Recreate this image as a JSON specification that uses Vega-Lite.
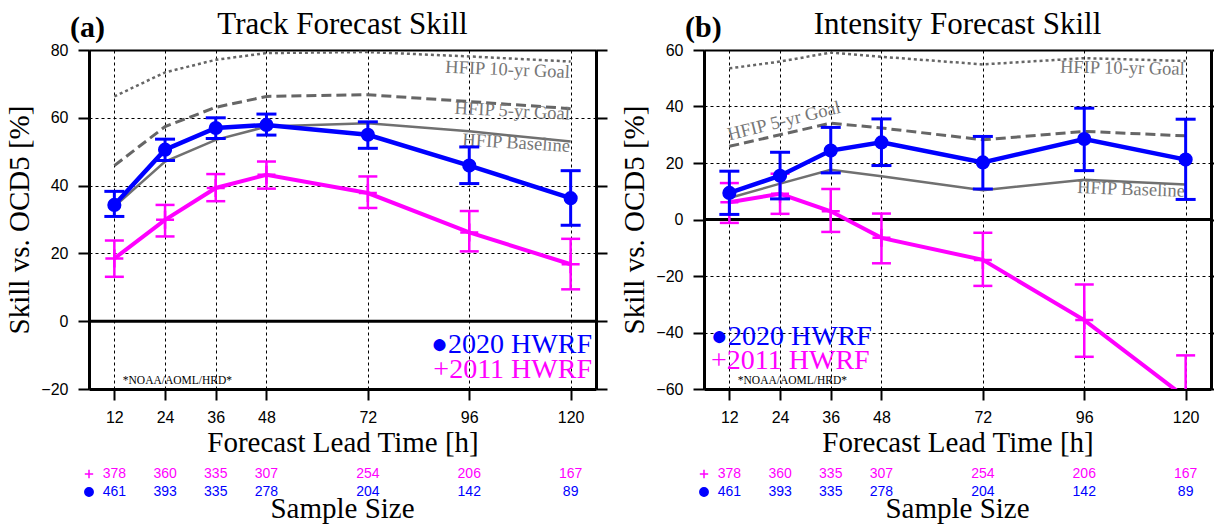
{
  "$schema": "https://vega.github.io/schema/vega-lite/v6.json",
  "autosize": {"type": "pad"},
  "padding": {"left": 5, "top": 9, "right": 0, "bottom": 0},
  "background": "white",
  "config": {
    "view": {"stroke": null},
    "axis": {
      "labelFont": "Liberation Sans", "labelFontSize": 16, "labelColor": "black",
      "titleFont": "Liberation Serif", "titleFontSize": 29, "titleFontWeight": "normal", "titleColor": "black",
      "tickColor": "black", "domainColor": "black", "tickSize": 11, "tickWidth": 2,
      "gridColor": "black", "gridDash": [3, 3], "gridWidth": 1, "gridOpacity": 1,
      "labelFlush": false, "labelOverlap": false
    },
    "title": {"font": "Liberation Serif", "fontSize": 31, "fontWeight": "normal", "color": "black", "anchor": "middle", "baseline": "alphabetic", "offset": -28},
    "text": {"font": "Liberation Serif"}
  },
  "datasets": {
    "track": [
      {"lead": 12, "series": "2020 HWRF", "skill": 34.3, "lo": 30.9, "hi": 38.3},
      {"lead": 24, "series": "2020 HWRF", "skill": 50.6, "lo": 47.4, "hi": 53.7},
      {"lead": 36, "series": "2020 HWRF", "skill": 57.0, "lo": 53.9, "hi": 60.0},
      {"lead": 48, "series": "2020 HWRF", "skill": 57.9, "lo": 54.9, "hi": 61.1},
      {"lead": 72, "series": "2020 HWRF", "skill": 55.0, "lo": 51.0, "hi": 58.8},
      {"lead": 96, "series": "2020 HWRF", "skill": 45.9, "lo": 40.6, "hi": 51.4},
      {"lead": 120, "series": "2020 HWRF", "skill": 36.3, "lo": 28.3, "hi": 44.4},
      {"lead": 12, "series": "2011 HWRF", "skill": 18.5, "lo": 13.1, "hi": 23.8},
      {"lead": 24, "series": "2011 HWRF", "skill": 29.9, "lo": 25.0, "hi": 34.3},
      {"lead": 36, "series": "2011 HWRF", "skill": 39.3, "lo": 35.4, "hi": 43.4},
      {"lead": 48, "series": "2011 HWRF", "skill": 43.2, "lo": 39.1, "hi": 47.1},
      {"lead": 72, "series": "2011 HWRF", "skill": 37.8, "lo": 33.4, "hi": 42.7},
      {"lead": 96, "series": "2011 HWRF", "skill": 26.2, "lo": 20.6, "hi": 32.5},
      {"lead": 120, "series": "2011 HWRF", "skill": 16.8, "lo": 9.4, "hi": 24.3},
      {"lead": 12, "series": "HFIP 10-yr Goal", "skill": 66.3},
      {"lead": 24, "series": "HFIP 10-yr Goal", "skill": 73.4},
      {"lead": 36, "series": "HFIP 10-yr Goal", "skill": 77.1},
      {"lead": 48, "series": "HFIP 10-yr Goal", "skill": 79.1},
      {"lead": 72, "series": "HFIP 10-yr Goal", "skill": 79.4},
      {"lead": 96, "series": "HFIP 10-yr Goal", "skill": 78.1},
      {"lead": 120, "series": "HFIP 10-yr Goal", "skill": 76.6},
      {"lead": 12, "series": "HFIP 5-yr Goal", "skill": 45.9},
      {"lead": 24, "series": "HFIP 5-yr Goal", "skill": 57.4},
      {"lead": 36, "series": "HFIP 5-yr Goal", "skill": 63.1},
      {"lead": 48, "series": "HFIP 5-yr Goal", "skill": 66.3},
      {"lead": 72, "series": "HFIP 5-yr Goal", "skill": 66.8},
      {"lead": 96, "series": "HFIP 5-yr Goal", "skill": 64.8},
      {"lead": 120, "series": "HFIP 5-yr Goal", "skill": 62.7},
      {"lead": 12, "series": "HFIP Baseline", "skill": 33.8},
      {"lead": 24, "series": "HFIP Baseline", "skill": 47.1},
      {"lead": 36, "series": "HFIP Baseline", "skill": 53.5},
      {"lead": 48, "series": "HFIP Baseline", "skill": 57.4},
      {"lead": 72, "series": "HFIP Baseline", "skill": 58.4},
      {"lead": 96, "series": "HFIP Baseline", "skill": 56.0},
      {"lead": 120, "series": "HFIP Baseline", "skill": 53.0}
    ],
    "intensity": [
      {"lead": 12, "series": "2020 HWRF", "skill": 9.4, "lo": 1.8, "hi": 17.1},
      {"lead": 24, "series": "2020 HWRF", "skill": 15.5, "lo": 7.3, "hi": 23.8},
      {"lead": 36, "series": "2020 HWRF", "skill": 24.4, "lo": 16.5, "hi": 32.6},
      {"lead": 48, "series": "2020 HWRF", "skill": 27.3, "lo": 19.1, "hi": 35.6},
      {"lead": 72, "series": "2020 HWRF", "skill": 20.2, "lo": 10.8, "hi": 29.4},
      {"lead": 96, "series": "2020 HWRF", "skill": 28.5, "lo": 17.3, "hi": 39.4},
      {"lead": 120, "series": "2020 HWRF", "skill": 21.2, "lo": 7.1, "hi": 35.5},
      {"lead": 12, "series": "2011 HWRF", "skill": 6.1, "lo": -1.2, "hi": 12.9},
      {"lead": 24, "series": "2011 HWRF", "skill": 9.1, "lo": 2.0, "hi": 16.2},
      {"lead": 36, "series": "2011 HWRF", "skill": 2.9, "lo": -4.4, "hi": 10.8},
      {"lead": 48, "series": "2011 HWRF", "skill": -6.5, "lo": -15.5, "hi": 2.1},
      {"lead": 72, "series": "2011 HWRF", "skill": -14.3, "lo": -23.5, "hi": -4.7},
      {"lead": 96, "series": "2011 HWRF", "skill": -35.6, "lo": -48.6, "hi": -23.0},
      {"lead": 120, "series": "2011 HWRF", "skill": -63.0, "lo": -78.0, "hi": -48.1},
      {"lead": 12, "series": "HFIP 10-yr Goal", "skill": 53.5},
      {"lead": 24, "series": "HFIP 10-yr Goal", "skill": 55.9},
      {"lead": 36, "series": "HFIP 10-yr Goal", "skill": 59.1},
      {"lead": 48, "series": "HFIP 10-yr Goal", "skill": 57.6},
      {"lead": 72, "series": "HFIP 10-yr Goal", "skill": 54.9},
      {"lead": 96, "series": "HFIP 10-yr Goal", "skill": 57.1},
      {"lead": 120, "series": "HFIP 10-yr Goal", "skill": 56.1},
      {"lead": 12, "series": "HFIP 5-yr Goal", "skill": 25.9},
      {"lead": 24, "series": "HFIP 5-yr Goal", "skill": 30.0},
      {"lead": 36, "series": "HFIP 5-yr Goal", "skill": 34.1},
      {"lead": 48, "series": "HFIP 5-yr Goal", "skill": 32.4},
      {"lead": 72, "series": "HFIP 5-yr Goal", "skill": 28.2},
      {"lead": 96, "series": "HFIP 5-yr Goal", "skill": 31.2},
      {"lead": 120, "series": "HFIP 5-yr Goal", "skill": 29.6},
      {"lead": 12, "series": "HFIP Baseline", "skill": 7.6},
      {"lead": 24, "series": "HFIP Baseline", "skill": 12.7},
      {"lead": 36, "series": "HFIP Baseline", "skill": 17.6},
      {"lead": 48, "series": "HFIP Baseline", "skill": 15.3},
      {"lead": 72, "series": "HFIP Baseline", "skill": 10.4},
      {"lead": 96, "series": "HFIP Baseline", "skill": 14.1},
      {"lead": 120, "series": "HFIP Baseline", "skill": 12.4}
    ],
    "samples": [
      {"lead": 12, "series": "2011 HWRF", "n": 378},
      {"lead": 24, "series": "2011 HWRF", "n": 360},
      {"lead": 36, "series": "2011 HWRF", "n": 335},
      {"lead": 48, "series": "2011 HWRF", "n": 307},
      {"lead": 72, "series": "2011 HWRF", "n": 254},
      {"lead": 96, "series": "2011 HWRF", "n": 206},
      {"lead": 120, "series": "2011 HWRF", "n": 167},
      {"lead": 12, "series": "2020 HWRF", "n": 461},
      {"lead": 24, "series": "2020 HWRF", "n": 393},
      {"lead": 36, "series": "2020 HWRF", "n": 335},
      {"lead": 48, "series": "2020 HWRF", "n": 278},
      {"lead": 72, "series": "2020 HWRF", "n": 204},
      {"lead": 96, "series": "2020 HWRF", "n": 142},
      {"lead": 120, "series": "2020 HWRF", "n": 89}
    ],
    "keys": [
      {"series": "2011 HWRF"},
      {"series": "2020 HWRF"}
    ],
    "one": [{}]
  },
  "concat": [
    {
      "width": 507,
      "height": 339,
      "title": "Track Forecast Skill",
      "data": {"name": "track"},
      "layer": [
        {
          "transform": [{"filter": "datum.series === 'HFIP 10-yr Goal'"}],
          "mark": {"type": "line", "color": "#666666", "strokeWidth": 2.5, "strokeDash": [3, 3]},
          "encoding": {
            "x": {"field": "lead", "type": "quantitative", "scale": {"domain": [6, 126], "nice": false, "zero": false},
                  "axis": {"orient": "bottom", "values": [12, 24, 36, 48, 72, 96, 120], "title": "Forecast Lead Time [h]", "grid": true, "domainWidth": 3, "labelPadding": 9, "titlePadding": 3}},
            "y": {"field": "skill", "type": "quantitative", "scale": {"domain": [-20, 80], "nice": false, "zero": false},
                  "axis": {"orient": "left", "values": [-20, 0, 20, 40, 60, 80], "title": "Skill vs. OCD5 [%]", "grid": true, "domainWidth": 3, "labelPadding": 10, "titlePadding": 6}}
          }
        },
        {
          "data": {"name": "one"},
          "mark": {"type": "rule", "color": "black", "strokeWidth": 3},
          "encoding": {
            "y": {"datum": 0, "type": "quantitative",
                  "axis": {"orient": "right", "values": [-20, 0, 20, 40, 60, 80], "labels": false, "title": null, "grid": false, "domainWidth": 3}}
          }
        },
        {
          "transform": [{"filter": "datum.series === 'HFIP 5-yr Goal'"}],
          "mark": {"type": "line", "color": "#666666", "strokeWidth": 3, "strokeDash": [10, 5]},
          "encoding": {
            "x": {"field": "lead", "type": "quantitative", "axis": null},
            "y": {"field": "skill", "type": "quantitative", "axis": null}
          }
        },
        {
          "transform": [{"filter": "datum.series === 'HFIP Baseline'"}],
          "mark": {"type": "line", "color": "#707070", "strokeWidth": 2.5},
          "encoding": {
            "x": {"field": "lead", "type": "quantitative", "axis": null},
            "y": {"field": "skill", "type": "quantitative", "axis": null}
          }
        },
        {
          "data": {"name": "one"},
          "mark": {"type": "text", "text": "HFIP 10-yr Goal", "align": "right", "baseline": "alphabetic", "angle": 2.5, "dx": -1, "fontSize": 18.5, "color": "#777777"},
          "encoding": {"x": {"datum": 120, "type": "quantitative", "axis": null}, "y": {"datum": 71.7, "type": "quantitative", "axis": null}}
        },
        {
          "data": {"name": "one"},
          "mark": {"type": "text", "text": "HFIP 5-yr Goal", "align": "right", "baseline": "alphabetic", "angle": 3, "dx": -1, "fontSize": 18.5, "color": "#777777"},
          "encoding": {"x": {"datum": 120, "type": "quantitative", "axis": null}, "y": {"datum": 59.4, "type": "quantitative", "axis": null}}
        },
        {
          "data": {"name": "one"},
          "mark": {"type": "text", "text": "HFIP Baseline", "align": "right", "baseline": "alphabetic", "angle": 3.5, "dx": -1, "fontSize": 18.5, "color": "#777777"},
          "encoding": {"x": {"datum": 120, "type": "quantitative", "axis": null}, "y": {"datum": 49.9, "type": "quantitative", "axis": null}}
        },
        {
          "transform": [{"filter": "datum.series === '2011 HWRF'"}],
          "mark": {"type": "line", "color": "#ff00ff", "strokeWidth": 4, "clip": true},
          "encoding": {
            "x": {"field": "lead", "type": "quantitative", "axis": null},
            "y": {"field": "skill", "type": "quantitative", "axis": null}
          }
        },
        {
          "transform": [{"filter": "datum.series === '2011 HWRF'"}],
          "mark": {"type": "rule", "color": "#ff00ff", "strokeWidth": 2.5, "clip": true},
          "encoding": {
            "x": {"field": "lead", "type": "quantitative", "axis": null},
            "y": {"field": "lo", "type": "quantitative", "axis": null},
            "y2": {"field": "hi"}
          }
        },
        {
          "transform": [{"filter": "datum.series === '2011 HWRF'"}],
          "mark": {"type": "tick", "orient": "horizontal", "color": "#ff00ff", "thickness": 2.5, "size": 19, "opacity": 1, "clip": true},
          "encoding": {
            "x": {"field": "lead", "type": "quantitative", "axis": null},
            "y": {"field": "lo", "type": "quantitative", "axis": null}
          }
        },
        {
          "transform": [{"filter": "datum.series === '2011 HWRF'"}],
          "mark": {"type": "tick", "orient": "horizontal", "color": "#ff00ff", "thickness": 2.5, "size": 19, "opacity": 1, "clip": true},
          "encoding": {
            "x": {"field": "lead", "type": "quantitative", "axis": null},
            "y": {"field": "hi", "type": "quantitative", "axis": null}
          }
        },
        {
          "transform": [{"filter": "datum.series === '2011 HWRF'"}],
          "mark": {"type": "point", "shape": "M-1,0H1M0,-1V1", "size": 324, "filled": false, "color": "#ff00ff", "strokeWidth": 2.5, "opacity": 1, "clip": true},
          "encoding": {
            "x": {"field": "lead", "type": "quantitative", "axis": null},
            "y": {"field": "skill", "type": "quantitative", "axis": null}
          }
        },
        {
          "transform": [{"filter": "datum.series === '2020 HWRF'"}],
          "mark": {"type": "line", "color": "#0000ff", "strokeWidth": 4.5, "clip": true},
          "encoding": {
            "x": {"field": "lead", "type": "quantitative", "axis": null},
            "y": {"field": "skill", "type": "quantitative", "axis": null}
          }
        },
        {
          "transform": [{"filter": "datum.series === '2020 HWRF'"}],
          "mark": {"type": "rule", "color": "#0000ff", "strokeWidth": 3, "clip": true},
          "encoding": {
            "x": {"field": "lead", "type": "quantitative", "axis": null},
            "y": {"field": "lo", "type": "quantitative", "axis": null},
            "y2": {"field": "hi"}
          }
        },
        {
          "transform": [{"filter": "datum.series === '2020 HWRF'"}],
          "mark": {"type": "tick", "orient": "horizontal", "color": "#0000ff", "thickness": 3, "size": 20, "opacity": 1, "clip": true},
          "encoding": {
            "x": {"field": "lead", "type": "quantitative", "axis": null},
            "y": {"field": "lo", "type": "quantitative", "axis": null}
          }
        },
        {
          "transform": [{"filter": "datum.series === '2020 HWRF'"}],
          "mark": {"type": "tick", "orient": "horizontal", "color": "#0000ff", "thickness": 3, "size": 20, "opacity": 1, "clip": true},
          "encoding": {
            "x": {"field": "lead", "type": "quantitative", "axis": null},
            "y": {"field": "hi", "type": "quantitative", "axis": null}
          }
        },
        {
          "transform": [{"filter": "datum.series === '2020 HWRF'"}],
          "mark": {"type": "point", "shape": "circle", "size": 200, "filled": true, "color": "#0000ff", "opacity": 1, "clip": true},
          "encoding": {
            "x": {"field": "lead", "type": "quantitative", "axis": null},
            "y": {"field": "skill", "type": "quantitative", "axis": null}
          }
        },
        {
          "data": {"name": "one"},
          "mark": {"type": "text", "text": "●2020 HWRF", "align": "right", "baseline": "alphabetic", "dx": -4, "fontSize": 28, "color": "#0000ff"},
          "encoding": {"x": {"datum": 126, "type": "quantitative", "axis": null}, "y": {"datum": -9.4, "type": "quantitative", "axis": null}}
        },
        {
          "data": {"name": "one"},
          "mark": {"type": "text", "text": "+2011 HWRF", "align": "right", "baseline": "alphabetic", "dx": -4, "fontSize": 28, "color": "#ff00ff"},
          "encoding": {"x": {"datum": 126, "type": "quantitative", "axis": null}, "y": {"datum": -16.8, "type": "quantitative", "axis": null}}
        },
        {
          "data": {"name": "one"},
          "mark": {"type": "text", "text": "*NOAA/AOML/HRD*", "align": "left", "baseline": "alphabetic", "fontSize": 11.5, "color": "black"},
          "encoding": {"x": {"datum": 14, "type": "quantitative", "axis": null}, "y": {"datum": -18.5, "type": "quantitative", "axis": null}}
        },
        {
          "data": {"name": "one"},
          "mark": {"type": "text", "text": "(a)", "align": "left", "baseline": "alphabetic", "dx": -19, "dy": -13, "fontSize": 30, "fontWeight": "bold", "color": "black"},
          "encoding": {
            "x": {"datum": 6, "type": "quantitative", "axis": {"orient": "top", "labels": false, "ticks": false, "title": null, "grid": false, "domainWidth": 2}},
            "y": {"datum": 80, "type": "quantitative", "axis": null}
          }
        }
      ]
    },
    {
      "width": 507,
      "height": 339,
      "title": "Intensity Forecast Skill",
      "data": {"name": "intensity"},
      "layer": [
        {
          "transform": [{"filter": "datum.series === 'HFIP 10-yr Goal'"}],
          "mark": {"type": "line", "color": "#666666", "strokeWidth": 2.5, "strokeDash": [3, 3]},
          "encoding": {
            "x": {"field": "lead", "type": "quantitative", "scale": {"domain": [6, 126], "nice": false, "zero": false},
                  "axis": {"orient": "bottom", "values": [12, 24, 36, 48, 72, 96, 120], "title": "Forecast Lead Time [h]", "grid": true, "domainWidth": 3, "labelPadding": 9, "titlePadding": 3}},
            "y": {"field": "skill", "type": "quantitative", "scale": {"domain": [-60, 60], "nice": false, "zero": false},
                  "axis": {"orient": "left", "values": [-60, -40, -20, 0, 20, 40, 60], "title": "Skill vs. OCD5 [%]", "grid": true, "domainWidth": 3, "labelPadding": 10, "titlePadding": 6}}
          }
        },
        {
          "data": {"name": "one"},
          "mark": {"type": "rule", "color": "black", "strokeWidth": 3},
          "encoding": {
            "y": {"datum": 0, "type": "quantitative",
                  "axis": {"orient": "right", "values": [-60, -40, -20, 0, 20, 40, 60], "labels": false, "title": null, "grid": false, "domainWidth": 3}}
          }
        },
        {
          "transform": [{"filter": "datum.series === 'HFIP 5-yr Goal'"}],
          "mark": {"type": "line", "color": "#666666", "strokeWidth": 3, "strokeDash": [10, 5]},
          "encoding": {
            "x": {"field": "lead", "type": "quantitative", "axis": null},
            "y": {"field": "skill", "type": "quantitative", "axis": null}
          }
        },
        {
          "transform": [{"filter": "datum.series === 'HFIP Baseline'"}],
          "mark": {"type": "line", "color": "#707070", "strokeWidth": 2.5},
          "encoding": {
            "x": {"field": "lead", "type": "quantitative", "axis": null},
            "y": {"field": "skill", "type": "quantitative", "axis": null}
          }
        },
        {
          "data": {"name": "one"},
          "mark": {"type": "text", "text": "HFIP 10-yr Goal", "align": "right", "baseline": "alphabetic", "angle": 1, "dx": -1, "fontSize": 18.5, "color": "#777777"},
          "encoding": {"x": {"datum": 120, "type": "quantitative", "axis": null}, "y": {"datum": 51.2, "type": "quantitative", "axis": null}}
        },
        {
          "data": {"name": "one"},
          "mark": {"type": "text", "text": "HFIP 5-yr Goal", "align": "left", "baseline": "alphabetic", "angle": -14, "fontSize": 18.5, "color": "#777777"},
          "encoding": {"x": {"datum": 12, "type": "quantitative", "axis": null}, "y": {"datum": 28, "type": "quantitative", "axis": null}}
        },
        {
          "data": {"name": "one"},
          "mark": {"type": "text", "text": "HFIP Baseline", "align": "right", "baseline": "alphabetic", "angle": 2, "dx": -1, "fontSize": 18.5, "color": "#777777"},
          "encoding": {"x": {"datum": 120, "type": "quantitative", "axis": null}, "y": {"datum": 8.0, "type": "quantitative", "axis": null}}
        },
        {
          "transform": [{"filter": "datum.series === '2011 HWRF'"}],
          "mark": {"type": "line", "color": "#ff00ff", "strokeWidth": 4, "clip": true},
          "encoding": {
            "x": {"field": "lead", "type": "quantitative", "axis": null},
            "y": {"field": "skill", "type": "quantitative", "axis": null}
          }
        },
        {
          "transform": [{"filter": "datum.series === '2011 HWRF'"}],
          "mark": {"type": "rule", "color": "#ff00ff", "strokeWidth": 2.5, "clip": true},
          "encoding": {
            "x": {"field": "lead", "type": "quantitative", "axis": null},
            "y": {"field": "lo", "type": "quantitative", "axis": null},
            "y2": {"field": "hi"}
          }
        },
        {
          "transform": [{"filter": "datum.series === '2011 HWRF'"}],
          "mark": {"type": "tick", "orient": "horizontal", "color": "#ff00ff", "thickness": 2.5, "size": 19, "opacity": 1, "clip": true},
          "encoding": {
            "x": {"field": "lead", "type": "quantitative", "axis": null},
            "y": {"field": "lo", "type": "quantitative", "axis": null}
          }
        },
        {
          "transform": [{"filter": "datum.series === '2011 HWRF'"}],
          "mark": {"type": "tick", "orient": "horizontal", "color": "#ff00ff", "thickness": 2.5, "size": 19, "opacity": 1, "clip": true},
          "encoding": {
            "x": {"field": "lead", "type": "quantitative", "axis": null},
            "y": {"field": "hi", "type": "quantitative", "axis": null}
          }
        },
        {
          "transform": [{"filter": "datum.series === '2011 HWRF'"}],
          "mark": {"type": "point", "shape": "M-1,0H1M0,-1V1", "size": 324, "filled": false, "color": "#ff00ff", "strokeWidth": 2.5, "opacity": 1, "clip": true},
          "encoding": {
            "x": {"field": "lead", "type": "quantitative", "axis": null},
            "y": {"field": "skill", "type": "quantitative", "axis": null}
          }
        },
        {
          "transform": [{"filter": "datum.series === '2020 HWRF'"}],
          "mark": {"type": "line", "color": "#0000ff", "strokeWidth": 4.5, "clip": true},
          "encoding": {
            "x": {"field": "lead", "type": "quantitative", "axis": null},
            "y": {"field": "skill", "type": "quantitative", "axis": null}
          }
        },
        {
          "transform": [{"filter": "datum.series === '2020 HWRF'"}],
          "mark": {"type": "rule", "color": "#0000ff", "strokeWidth": 3, "clip": true},
          "encoding": {
            "x": {"field": "lead", "type": "quantitative", "axis": null},
            "y": {"field": "lo", "type": "quantitative", "axis": null},
            "y2": {"field": "hi"}
          }
        },
        {
          "transform": [{"filter": "datum.series === '2020 HWRF'"}],
          "mark": {"type": "tick", "orient": "horizontal", "color": "#0000ff", "thickness": 3, "size": 20, "opacity": 1, "clip": true},
          "encoding": {
            "x": {"field": "lead", "type": "quantitative", "axis": null},
            "y": {"field": "lo", "type": "quantitative", "axis": null}
          }
        },
        {
          "transform": [{"filter": "datum.series === '2020 HWRF'"}],
          "mark": {"type": "tick", "orient": "horizontal", "color": "#0000ff", "thickness": 3, "size": 20, "opacity": 1, "clip": true},
          "encoding": {
            "x": {"field": "lead", "type": "quantitative", "axis": null},
            "y": {"field": "hi", "type": "quantitative", "axis": null}
          }
        },
        {
          "transform": [{"filter": "datum.series === '2020 HWRF'"}],
          "mark": {"type": "point", "shape": "circle", "size": 200, "filled": true, "color": "#0000ff", "opacity": 1, "clip": true},
          "encoding": {
            "x": {"field": "lead", "type": "quantitative", "axis": null},
            "y": {"field": "skill", "type": "quantitative", "axis": null}
          }
        },
        {
          "data": {"name": "one"},
          "mark": {"type": "text", "text": "●2020 HWRF", "align": "left", "baseline": "alphabetic", "dx": 7, "fontSize": 28, "color": "#0000ff"},
          "encoding": {"x": {"datum": 6, "type": "quantitative", "axis": null}, "y": {"datum": -44.4, "type": "quantitative", "axis": null}}
        },
        {
          "data": {"name": "one"},
          "mark": {"type": "text", "text": "+2011 HWRF", "align": "left", "baseline": "alphabetic", "dx": 7, "fontSize": 28, "color": "#ff00ff"},
          "encoding": {"x": {"datum": 6, "type": "quantitative", "axis": null}, "y": {"datum": -52.9, "type": "quantitative", "axis": null}}
        },
        {
          "data": {"name": "one"},
          "mark": {"type": "text", "text": "*NOAA/AOML/HRD*", "align": "left", "baseline": "alphabetic", "fontSize": 11.5, "color": "black"},
          "encoding": {"x": {"datum": 14, "type": "quantitative", "axis": null}, "y": {"datum": -58.2, "type": "quantitative", "axis": null}}
        },
        {
          "data": {"name": "one"},
          "mark": {"type": "text", "text": "(b)", "align": "left", "baseline": "alphabetic", "dx": -19, "dy": -13, "fontSize": 30, "fontWeight": "bold", "color": "black"},
          "encoding": {
            "x": {"datum": 6, "type": "quantitative", "axis": {"orient": "top", "labels": false, "ticks": false, "title": null, "grid": false, "domainWidth": 2}},
            "y": {"datum": 60, "type": "quantitative", "axis": null}
          }
        }
      ]
    },
    {
      "width": 507,
      "height": 36,
      "title": {"text": "Sample Size", "orient": "bottom", "fontSize": 29, "offset": -6},
      "layer": [
        {
          "data": {"name": "samples"},
          "mark": {"type": "text", "font": "Liberation Sans", "fontSize": 14, "baseline": "middle"},
          "encoding": {
            "x": {"field": "lead", "type": "quantitative", "scale": {"domain": [6, 126], "nice": false, "zero": false}, "axis": null},
            "y": {"field": "series", "type": "nominal", "scale": {"domain": ["2011 HWRF", "2020 HWRF"], "paddingInner": 0, "paddingOuter": 0}, "axis": null},
            "text": {"field": "n", "type": "quantitative"},
            "color": {"field": "series", "type": "nominal", "scale": {"domain": ["2011 HWRF", "2020 HWRF"], "range": ["#ff00ff", "#0000ff"]}, "legend": null}
          }
        },
        {
          "data": {"name": "keys"},
          "mark": {"type": "point", "filled": true, "size": 70, "strokeWidth": 1.5, "opacity": 1},
          "encoding": {
            "x": {"datum": 6, "type": "quantitative", "axis": null},
            "y": {"field": "series", "type": "nominal", "axis": null},
            "shape": {"field": "series", "type": "nominal", "scale": {"domain": ["2011 HWRF", "2020 HWRF"], "range": ["M-1,0H1M0,-1V1", "circle"]}, "legend": null},
            "color": {"field": "series", "type": "nominal", "legend": null},
            "stroke": {"field": "series", "type": "nominal", "scale": {"domain": ["2011 HWRF", "2020 HWRF"], "range": ["#ff00ff", "#0000ff"]}, "legend": null}
          }
        }
      ]
    },
    {
      "width": 507,
      "height": 36,
      "title": {"text": "Sample Size", "orient": "bottom", "fontSize": 29, "offset": -6},
      "layer": [
        {
          "data": {"name": "samples"},
          "mark": {"type": "text", "font": "Liberation Sans", "fontSize": 14, "baseline": "middle"},
          "encoding": {
            "x": {"field": "lead", "type": "quantitative", "scale": {"domain": [6, 126], "nice": false, "zero": false}, "axis": null},
            "y": {"field": "series", "type": "nominal", "scale": {"domain": ["2011 HWRF", "2020 HWRF"], "paddingInner": 0, "paddingOuter": 0}, "axis": null},
            "text": {"field": "n", "type": "quantitative"},
            "color": {"field": "series", "type": "nominal", "scale": {"domain": ["2011 HWRF", "2020 HWRF"], "range": ["#ff00ff", "#0000ff"]}, "legend": null}
          }
        },
        {
          "data": {"name": "keys"},
          "mark": {"type": "point", "filled": true, "size": 70, "strokeWidth": 1.5, "opacity": 1},
          "encoding": {
            "x": {"datum": 6, "type": "quantitative", "axis": null},
            "y": {"field": "series", "type": "nominal", "axis": null},
            "shape": {"field": "series", "type": "nominal", "scale": {"domain": ["2011 HWRF", "2020 HWRF"], "range": ["M-1,0H1M0,-1V1", "circle"]}, "legend": null},
            "color": {"field": "series", "type": "nominal", "legend": null},
            "stroke": {"field": "series", "type": "nominal", "scale": {"domain": ["2011 HWRF", "2020 HWRF"], "range": ["#ff00ff", "#0000ff"]}, "legend": null}
          }
        }
      ]
    }
  ],
  "columns": 2,
  "spacing": {"row": 76, "column": 108},
  "bounds": "flush"
}
